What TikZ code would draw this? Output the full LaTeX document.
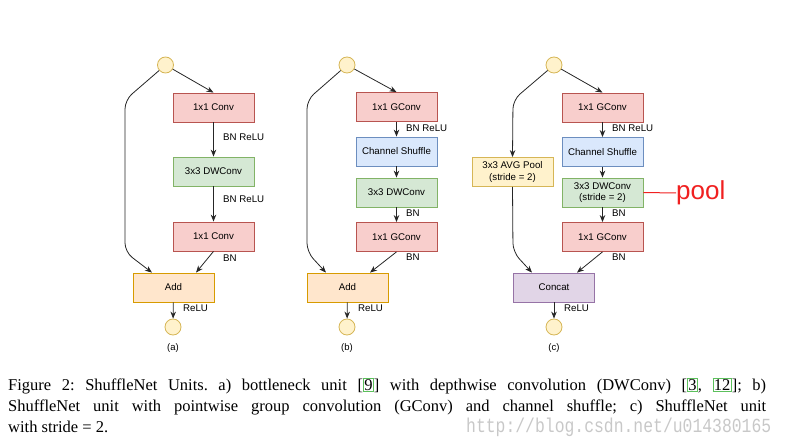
\documentclass[tikz,border=0pt]{standalone}
\usepackage{fontspec}
\setmainfont{Liberation Serif}
\setsansfont{Liberation Sans}
\newfontfamily\wmfont[FakeStretch=0.82]{Liberation Mono}
\usetikzlibrary{arrows.meta,calc}

\definecolor{convfill}{HTML}{F8CECC}\definecolor{convline}{HTML}{B85450}
\definecolor{dwfill}{HTML}{D5E8D4}\definecolor{dwline}{HTML}{82B366}
\definecolor{shufill}{HTML}{DAE8FC}\definecolor{shuline}{HTML}{6C8EBF}
\definecolor{addfill}{HTML}{FFE6CC}\definecolor{addline}{HTML}{D79B00}
\definecolor{poolfill}{HTML}{FFF2CC}\definecolor{poolline}{HTML}{D6B656}
\definecolor{catfill}{HTML}{E1D5E7}\definecolor{catline}{HTML}{9673A6}
\definecolor{citegreen}{HTML}{5CC05C}
\definecolor{wmgray}{HTML}{C8C8C8}
\definecolor{penred}{HTML}{F02020}

\newcommand\citebox[1]{{\setlength\fboxsep{0.6pt}\setlength\fboxrule{0.7pt}\color{citegreen}\fbox{\color{black}#1}}}

\begin{document}
\frenchspacing
\begin{tikzpicture}[x=1pt,y=-1pt,
    blk/.style={draw, line width=0.8pt, minimum width=81pt, minimum height=29pt, inner sep=0pt,
      align=center, font=\sffamily\fontsize{9.7}{11.5}\selectfont},
    convbox/.style={blk, fill=convfill, draw=convline},
    dwbox/.style={blk, fill=dwfill, draw=dwline},
    shufbox/.style={blk, fill=shufill, draw=shuline},
    addbox/.style={blk, fill=addfill, draw=addline},
    poolbox/.style={blk, fill=poolfill, draw=poolline},
    catbox/.style={blk, fill=catfill, draw=catline},
    io/.style={circle, draw=poolline, fill=poolfill, line width=0.8pt, minimum size=16pt, inner sep=0pt},
    lbl/.style={anchor=west, inner sep=0pt, font=\sffamily\fontsize{9.7}{11.5}\selectfont},
    tag/.style={inner sep=0pt, font=\sffamily\fontsize{9.5}{11}\selectfont},
    arr/.style={-{Stealth[length=7pt,width=5.5pt]}, line width=0.8pt, draw=black!85},
    capline/.style={anchor=base west, inner sep=0pt, font=\fontsize{16.5}{21}\selectfont}]

  \useasboundingbox (0,0) rectangle (788,441);

  % (a)
  \node[io] (in-a) at (165.5,65) {};
  \node[convbox] (conv1-a) at (213.5,107.5) {1x1 Conv};
  \node[dwbox] (dw-a) at (213.5,171.5) {3x3 DWConv};
  \node[convbox] (conv2-a) at (213.5,236.5) {1x1 Conv};
  \node[addbox] (add-a) at (173.5,287.5) {Add};
  \node[io] (out-a) at (173,327) {};
  \draw[arr] (in-a) -- (conv1-a.north);
  \draw[arr] (conv1-a) -- (dw-a);
  \draw[arr] (dw-a) -- (conv2-a);
  \draw[arr] (conv2-a.south) -- ($(add-a.north)+(22.5,0)$);
  \draw[arr, rounded corners=9pt] (in-a) -- (125,100) -- (125,252) -- ($(add-a.north)+(-21.5,0)$);
  \draw[arr] (add-a) -- (out-a);
  \node[lbl] (l1-a) at (223,137) {BN ReLU};
  \node[lbl] (l2-a) at (223,199) {BN ReLU};
  \node[lbl] (l3-a) at (223,258) {BN};
  \node[lbl] (l4-a) at (183,308) {ReLU};
  \node[tag] (tag-a) at (173,348) {(a)};

  % (b)
  \node[io] (in-b) at (347,65) {};
  \node[convbox] (conv1-b) at (396.5,107) {1x1 GConv};
  \node[shufbox] (shuf-b) at (396.5,151.5) {Channel Shuffle};
  \node[dwbox] (dw-b) at (396.5,192.5) {3x3 DWConv};
  \node[convbox] (conv2-b) at (396.5,237) {1x1 GConv};
  \node[addbox] (add-b) at (347.5,287.5) {Add};
  \node[io] (out-b) at (347,327) {};
  \draw[arr] (in-b) -- (conv1-b.north);
  \draw[arr] (conv1-b) -- (shuf-b);
  \draw[arr] (shuf-b) -- (dw-b);
  \draw[arr] (dw-b) -- (conv2-b);
  \draw[arr] (conv2-b.south) -- ($(add-b.north)+(22.5,0)$);
  \draw[arr, rounded corners=9pt] (in-b) -- (307,100) -- (307,252) -- ($(add-b.north)+(-21.5,0)$);
  \draw[arr] (add-b) -- (out-b);
  \node[lbl] (l1-b) at (406,128) {BN ReLU};
  \node[lbl] (l2-b) at (406,213) {BN};
  \node[lbl] (l3-b) at (406,257) {BN};
  \node[lbl] (l4-b) at (358,308) {ReLU};
  \node[tag] (tag-b) at (347,348) {(b)};

  % (c)
  \node[io] (in-c) at (554,65) {};
  \node[convbox] (conv1-c) at (602.5,107.5) {1x1 GConv};
  \node[shufbox] (shuf-c) at (602.5,152) {Channel Shuffle};
  \node[dwbox] (dw-c) at (602.5,192.5) {3x3 DWConv\\(stride = 2)};
  \node[convbox] (conv2-c) at (602.5,237) {1x1 GConv};
  \node[poolbox] (pool-c) at (512.5,172) {3x3 AVG Pool\\(stride = 2)};
  \node[catbox] (cat-c) at (554,287.5) {Concat};
  \node[io] (out-c) at (554,327) {};
  \draw[arr] (in-c) -- (conv1-c.north);
  \draw[arr] (conv1-c) -- (shuf-c);
  \draw[arr] (shuf-c) -- (dw-c);
  \draw[arr] (dw-c) -- (conv2-c);
  \draw[arr] (conv2-c.south) -- ($(cat-c.north)+(23,0)$);
  \draw[arr, rounded corners=9pt] (in-c) -- (513,100) -- (pool-c.north);
  \draw[arr, rounded corners=9pt] (pool-c.south) -- (513,252) -- ($(cat-c.north)+(-22,0)$);
  \draw[arr] (cat-c) -- (out-c);
  \node[lbl] (l1-c) at (612,128) {BN ReLU};
  \node[lbl] (l2-c) at (612,213) {BN};
  \node[lbl] (l3-c) at (612,257) {BN};
  \node[lbl] (l4-c) at (564,308) {ReLU};
  \node[tag] (tag-c) at (554,348) {(c)};

  % handwritten note
  \node[anchor=west, inner sep=0pt, text=penred, font=\sffamily\fontsize{26}{28}\selectfont] (note) at (676,193) {pool};
  \draw[penred, line width=1pt] (note.west) -- (dw-c.east);

  % caption
  \node[capline] (cap1) at (8,390) {\makebox[758pt][s]{Figure 2: ShuffleNet Units. a) bottleneck unit [\citebox{9}] with depthwise convolution (DWConv) [\citebox{3}, \citebox{12}]; b)}};
  \node[capline] (cap2) at (8,411) {\makebox[758pt][s]{ShuffleNet unit with pointwise group convolution (GConv) and channel shuffle; c) ShuffleNet unit}};
  \node[capline] (cap3) at (8,432) {with stride = 2.};
  \node[anchor=base west, inner sep=0pt, text=wmgray, font=\wmfont\fontsize{20}{22}\selectfont] (mark) at (466,432) {http://blog.csdn.net/u014380165};
\end{tikzpicture}
\end{document}
